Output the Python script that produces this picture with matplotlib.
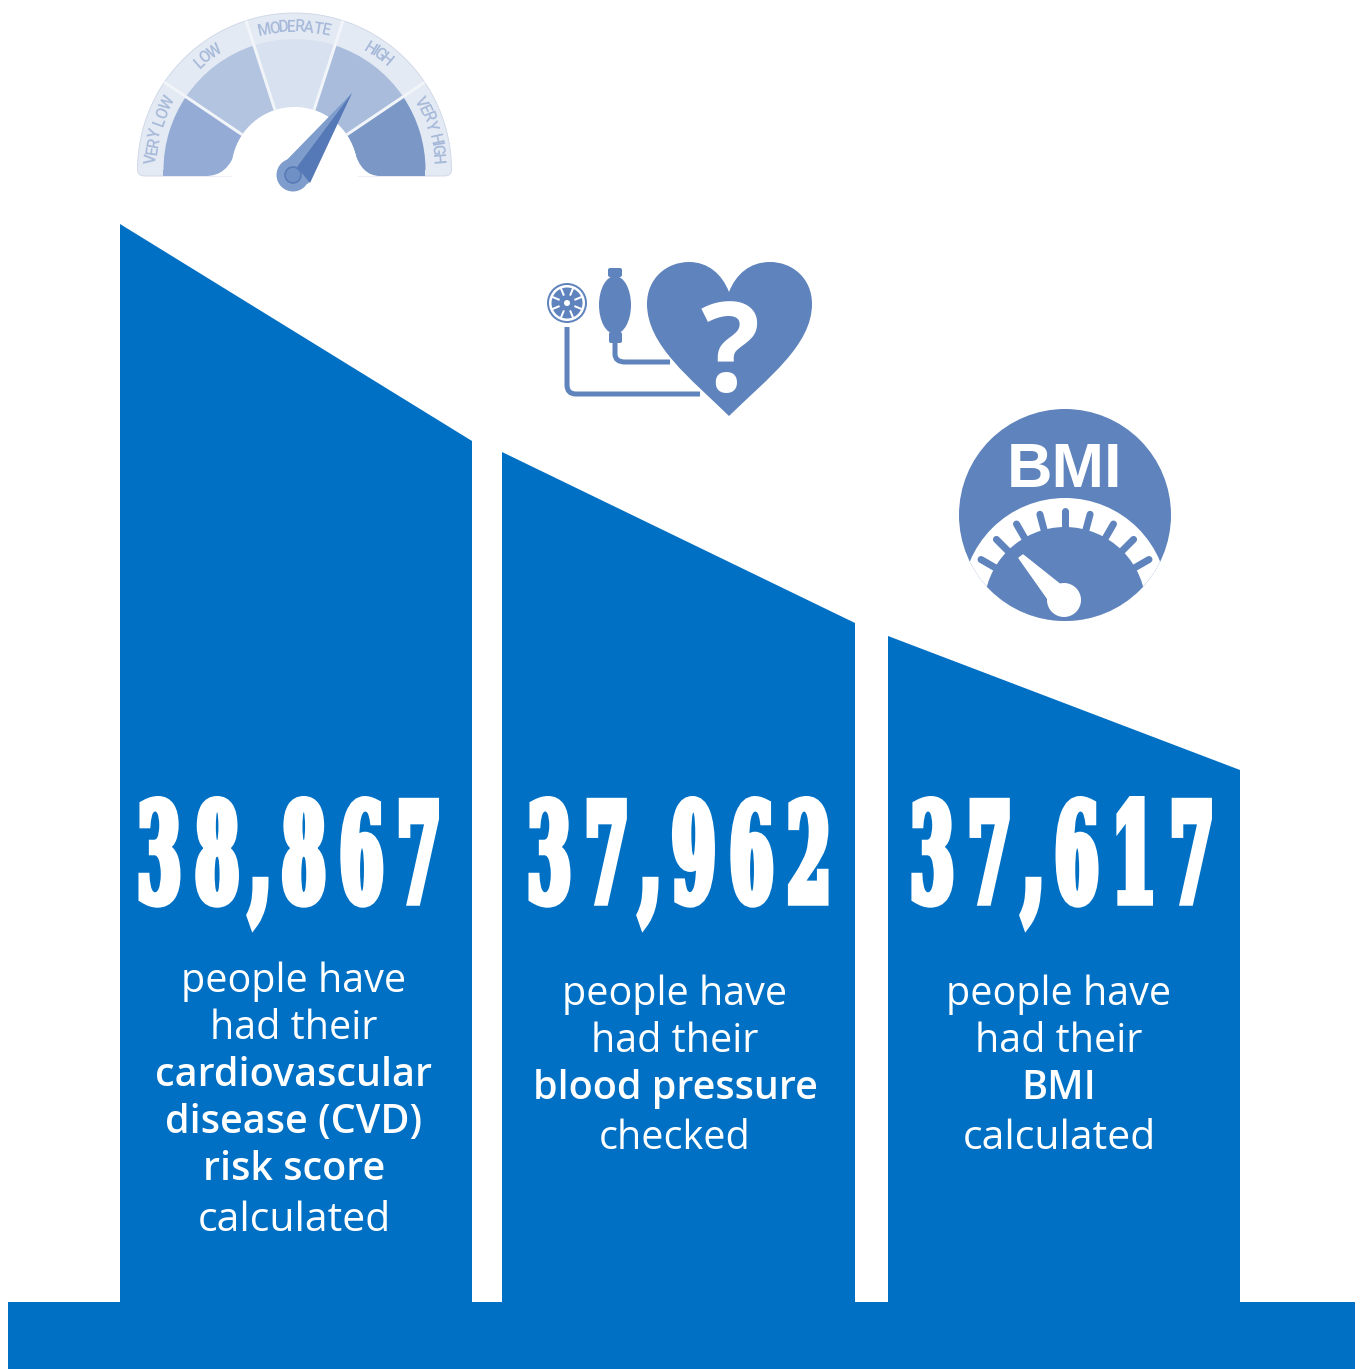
import numpy as np
import matplotlib
matplotlib.use('Agg')
import matplotlib.pyplot as plt
from matplotlib.patches import Polygon, Circle, Wedge, Ellipse, PathPatch, FancyBboxPatch
from matplotlib.path import Path
from matplotlib.patheffects import AbstractPathEffect
from matplotlib.textpath import TextPath
from matplotlib.font_manager import FontProperties
from matplotlib.transforms import IdentityTransform

# values and captions
counts = [38867, 37962, 37617]
captions = [
    ['people have', 'had their', 'cardiovascular', 'disease (CVD)', 'risk score', 'calculated'],
    ['people have', 'had their', 'blood pressure', 'checked'],
    ['people have', 'had their', 'BMI', 'calculated'],
]
bold_lines = [[2, 3, 4], [2], [2]]
risk_labels = ['VERY LOW', 'LOW', 'MODERATE', 'HIGH', 'VERY HIGH']

BLUE = '#0070C5'
ICON = '#5F83BC'
W, H = 1361, 1369

fig = plt.figure(figsize=(W / 100, H / 100), dpi=100)
ax = fig.add_axes([0, 0, 1, 1])
ax.set_xlim(0, W)
ax.set_ylim(H, 0)
ax.axis('off')


def px(v):
    return v * 0.72


class Tall(AbstractPathEffect):
    # stretches a line upward from its baseline, narrows each glyph about its
    # own centre and thickens the result
    def __init__(self, yscale, glyph, stroke):
        super().__init__()
        self.yscale = yscale
        self.glyph = glyph
        self.stroke = stroke

    def draw_path(self, renderer, gc, tpath, affine, rgbFace=None):
        verts = affine.transform(tpath.vertices)
        codes = tpath.codes
        base = affine.transform([(0, 0)])[0, 1]
        starts = np.flatnonzero(codes == Path.MOVETO).tolist() + [len(codes)]
        # contours that share an x range belong to one glyph (holes in 8, 6, 9)
        groups = []
        for i0, i1 in zip(starts[:-1], starts[1:]):
            lo, hi = verts[i0:i1, 0].min(), verts[i0:i1, 0].max()
            if groups and lo < groups[-1][1] and hi > groups[-1][0]:
                groups[-1][0] = min(groups[-1][0], lo)
                groups[-1][1] = max(groups[-1][1], hi)
                groups[-1][3] = i1
            else:
                groups.append([lo, hi, i0, i1])
        out = verts.copy()
        out[:, 1] = base + (verts[:, 1] - base) * self.yscale
        for lo, hi, i0, i1 in groups:
            c = (lo + hi) / 2
            out[i0:i1, 0] = c + (verts[i0:i1, 0] - c) * self.glyph
        gc0 = renderer.new_gc()
        gc0.copy_properties(gc)
        gc0.set_linewidth(self.stroke)
        gc0.set_foreground('white')
        gc0.set_joinstyle('miter')
        renderer.draw_path(gc0, Path(out, codes), IdentityTransform(), rgbFace)
        gc0.restore()


# columns and base
columns = [(120, 472, 224, 441), (502, 855, 452, 623), (888, 1240, 636, 770)]
for x0, x1, y0, y1 in columns:
    ax.add_patch(Polygon([(x0, y0), (x1, y1), (x1, 1310), (x0, 1310)], fc=BLUE, ec='none'))
ax.add_patch(Polygon([(8, 1302), (1355, 1302), (1355, H), (8, H)], fc=BLUE, ec='none'))

# big numbers
number_x = [290, 680, 1063]
for v, x in zip(counts, number_x):
    ax.text(x, 902, f'{v:,}', color='white', ha='center', va='baseline',
            fontsize=px(83), family='DejaVu Serif', weight='bold',
            path_effects=[Tall(1.66, 0.74, 5.4)])

# captions
caption_x = [294, 675, 1059]
caption_y = [[992, 1039, 1086, 1133, 1180, 1231],
             [1005, 1052, 1099, 1149],
             [1005, 1052, 1099, 1149]]
for lines, bolds, x, ys in zip(captions, bold_lines, caption_x, caption_y):
    for i, (line, y) in enumerate(zip(lines, ys)):
        size = 41 if line == 'calculated' else 39.5
        ax.text(x, y, line, color='white', ha='center', va='baseline',
                fontsize=px(size), family='Open Sans',
                weight='semibold' if i in bolds else 'normal')

# risk gauge
gx, gy = 294.5, 170
t = np.radians(np.linspace(0, 180, 120))
band = Path(
    [(gx + 157 * np.cos(a), gy - 157 * np.sin(a)) for a in t]
    + [(137.5, 176), (145, 176), (444, 176), (451.5, 176), (451.5, 170), (451.5, 170)],
    [Path.MOVETO] + [Path.LINETO] * 119 + [Path.CURVE3, Path.CURVE3, Path.LINETO, Path.CURVE3, Path.CURVE3, Path.CLOSEPOLY])
ax.add_patch(PathPatch(band, fc='#E4EAF4', ec='#CDD6E6', lw=0.6, zorder=2))
seg_edges = [0, 34, 72, 108, 146, 180]
seg_cols = ['#7A97C6', '#A9BCDC', '#D8E1EF', '#B3C4E0', '#93ABD5']
for a0, a1, c in zip(seg_edges[:-1], seg_edges[1:], seg_cols):
    # y axis is flipped, so wedge angles are mirrored
    ax.add_patch(Wedge((gx, gy), 131, -a1, -a0, width=68, fc=c, ec='none', zorder=3))
ax.add_patch(Polygon([(163.5, 170), (236, 170), (236, 175.5), (163.5, 175.5)], fc='#93ABD5', ec='none', zorder=3))
ax.add_patch(Polygon([(354, 170), (425.5, 170), (425.5, 175.5), (354, 175.5)], fc='#7A97C6', ec='none', zorder=3))
for a in seg_edges[1:-1]:
    r = np.radians(a)
    ax.plot([gx + 63 * np.cos(r), gx + 157 * np.cos(r)], [gy - 63 * np.sin(r), gy - 157 * np.sin(r)],
            color='#F1F4F9', lw=px(3), zorder=4, solid_capstyle='butt')
ax.add_patch(Circle((gx, gy), 63, fc='white', ec='none', zorder=5))
for p0, c, p1 in [((236, 150), (228, 176), (206, 176)), ((354, 150), (361, 176), (380, 176))]:
    verts = [p0, c, p1, (gx, 177), p0]
    codes = [Path.MOVETO, Path.CURVE3, Path.CURVE3, Path.LINETO, Path.CLOSEPOLY]
    ax.add_patch(PathPatch(Path(verts, codes), fc='white', ec='none', zorder=5))

# gauge labels run letter by letter along the band
label_fp = FontProperties(family='Roboto', weight='medium', size=px(15.5))
label_angles = [163.5, 127, 90, 54, 16.5]
for label, mid in zip(risk_labels, label_angles):
    widths = [TextPath((0, 0), ch, prop=label_fp).get_extents().width if ch != ' ' else 3.2 for ch in label]
    steps = [w * 1.39 + 0.2 for w in widths]
    total = sum(steps)
    pos = -total / 2
    for ch, s in zip(label, steps):
        ang = mid - np.degrees((pos + s / 2) / 143)
        r = np.radians(ang)
        ax.text(gx + 143 * np.cos(r), gy - 143 * np.sin(r), ch, rotation=ang - 90,
                rotation_mode='anchor', ha='center', va='center', fontproperties=label_fp,
                color='#A6B9D9', zorder=6)
        pos += s

# needle
nx, ny = 293, 175
ax.add_patch(Polygon([(352, 93), (308, 184), (279, 168)], fc='#7F9DCC', ec='none', zorder=7))
ax.add_patch(Circle((nx, ny), 16.5, fc='#7F9DCC', ec='none', zorder=7))
ax.add_patch(Polygon([(352, 93), (310, 183), (297, 167)], fc='#5578B6', ec='none', zorder=8))
ax.add_patch(Circle((nx, ny), 8, fc='#6F90C4', ec='#5578B6', lw=px(1.5), zorder=9))

# heart with question mark
heart = Path(
    [(729, 416), (690, 378), (647, 345), (647, 304), (647, 278), (667, 262), (689, 262),
     (708, 262), (722, 274), (729, 292), (736, 274), (750, 262), (770, 262), (792, 262),
     (812, 278), (812, 304), (812, 345), (768, 378), (729, 416), (729, 416)],
    [Path.MOVETO] + [Path.CURVE4] * 18 + [Path.CLOSEPOLY])
ax.add_patch(PathPatch(heart, fc=ICON, ec='none'))
ax.text(730, 391, '?', color='white', ha='center', va='baseline', fontsize=px(124),
        family='Open Sans', weight='bold')

# cuff pump and dial
ax.add_patch(Ellipse((615, 305), 32, 58, fc=ICON, ec='none'))
ax.add_patch(FancyBboxPatch((609, 269), 12, 7, boxstyle='round,pad=1,rounding_size=2', fc=ICON, ec='none'))
ax.add_patch(FancyBboxPatch((610, 333), 11, 9, boxstyle='round,pad=1,rounding_size=2', fc=ICON, ec='none'))
tube = Path([(615, 342), (615, 354), (615, 362), (625, 362), (670, 362)],
            [Path.MOVETO, Path.LINETO, Path.CURVE3, Path.CURVE3, Path.LINETO])
ax.add_patch(PathPatch(tube, fc='none', ec=ICON, lw=px(5)))
hose = Path([(567, 327), (567, 385), (567, 394), (576, 394), (700, 394)],
            [Path.MOVETO, Path.LINETO, Path.CURVE3, Path.CURVE3, Path.LINETO])
ax.add_patch(PathPatch(hose, fc='none', ec=ICON, lw=px(5)))
ax.add_patch(Circle((567, 303), 20, fc=ICON, ec='none'))
ax.add_patch(Circle((567, 303), 18, fc='white', ec='none'))
ax.add_patch(Circle((567, 303), 15.5, fc=ICON, ec='none'))
for a in np.radians(np.arange(0, 360, 45) + 22.5):
    ax.plot([567 + 9 * np.cos(a), 567 + 15.5 * np.cos(a)], [303 + 9 * np.sin(a), 303 + 15.5 * np.sin(a)],
            color='white', lw=px(2))
ax.add_patch(Circle((567, 303), 3, fc='white', ec='none'))

# BMI dial
disc = Circle((1065, 515), 106, fc=ICON, ec='none')
ax.add_patch(disc)
scale_ring = Circle((1065, 601), 103, fc='white', ec='none')
ax.add_patch(scale_ring)
scale_ring.set_clip_path(disc)
inner = Circle((1065, 608), 81, fc=ICON, ec='none')
ax.add_patch(inner)
inner.set_clip_path(disc)
for a in np.radians(np.arange(30, 151, 15)):
    ln, = ax.plot([1065 + 78 * np.cos(a), 1065 + 97 * np.cos(a)], [608 - 78 * np.sin(a), 608 - 97 * np.sin(a)],
                  color=ICON, lw=px(7), solid_capstyle='round')
    ln.set_clip_path(disc)
ax.add_patch(Polygon([(1019, 558), (1023, 555), (1062, 586), (1050, 602)], fc='white', ec='white', lw=1, joinstyle='round'))
ax.add_patch(Circle((1064, 600), 17, fc='white', ec='none'))
ax.text(1065, 487, 'BMI', color='white', ha='center', va='baseline', fontsize=px(63),
        family='Liberation Sans', weight='bold')

fig.savefig('out.png', dpi=100, facecolor='white')
